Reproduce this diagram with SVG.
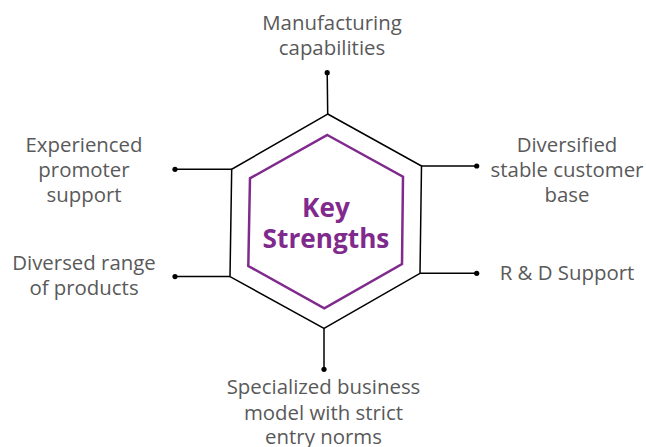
<svg xmlns="http://www.w3.org/2000/svg" width="646" height="447" viewBox="0 0 646 447">
<style>
.lbl{font-family:"Open Sans","Noto Sans",sans-serif;font-size:20.4px;fill:#595959;text-anchor:middle}
.key{font-family:"Open Sans","Noto Sans",sans-serif;font-size:26.2px;font-weight:bold;fill:#7f2a8c;text-anchor:middle}
.ln{stroke:#000;stroke-width:1.5;fill:none}
.dot{fill:#000}
</style>
<rect width="646" height="447" fill="#fff"/>
<g id="hexagon">
<polygon class="ln" points="327.7,114 421.5,166 420,273.3 324,328.3 230,276.6 231.7,169.3"/>
<polygon points="327.3,135 403,176.7 402,264 324.3,308.3 248.3,266 250,178.3" fill="none" stroke="#7f2a8c" stroke-width="2.5"/>
<text class="key" x="326" y="216.5">Key</text>
<text class="key" x="326" y="248">Strengths</text>
</g>
<g id="connectors">
<line class="ln" x1="327.7" y1="114" x2="327.2" y2="72.7"/>
<circle class="dot" cx="327.2" cy="72.7" r="2.6"/>
<line class="ln" x1="231.7" y1="169.3" x2="175" y2="169.3"/>
<circle class="dot" cx="175" cy="169.3" r="2.6"/>
<line class="ln" x1="230" y1="276.6" x2="175" y2="276.6"/>
<circle class="dot" cx="175" cy="276.6" r="2.6"/>
<line class="ln" x1="421.5" y1="166" x2="476.7" y2="166"/>
<circle class="dot" cx="476.7" cy="166" r="2.6"/>
<line class="ln" x1="420" y1="273.3" x2="476.7" y2="273.3"/>
<circle class="dot" cx="476.7" cy="273.3" r="2.6"/>
<line class="ln" x1="324" y1="328.3" x2="324" y2="369.3"/>
<circle class="dot" cx="324" cy="369.3" r="2.6"/>
</g>
<g id="manufacturing">
<text class="lbl" x="332" y="29.5">Manufacturing</text>
<text class="lbl" x="332" y="55">capabilities</text>
</g>
<g id="promoter">
<text class="lbl" x="84" y="151.5">Experienced</text>
<text class="lbl" x="84" y="176.5">promoter</text>
<text class="lbl" x="84" y="201.5">support</text>
</g>
<g id="products">
<text class="lbl" x="84" y="270">Diversed range</text>
<text class="lbl" x="84" y="295">of products</text>
</g>
<g id="customer">
<text class="lbl" x="567" y="151.5">Diversified</text>
<text class="lbl" x="567" y="176.5">stable customer</text>
<text class="lbl" x="567" y="201.5">base</text>
</g>
<g id="rd">
<text class="lbl" x="567" y="280">R &amp; D Support</text>
</g>
<g id="business">
<text class="lbl" x="323.5" y="394">Specialized business</text>
<text class="lbl" x="323.5" y="419.5">model with strict</text>
<text class="lbl" x="323.5" y="443.5">entry norms</text>
</g>
</svg>
